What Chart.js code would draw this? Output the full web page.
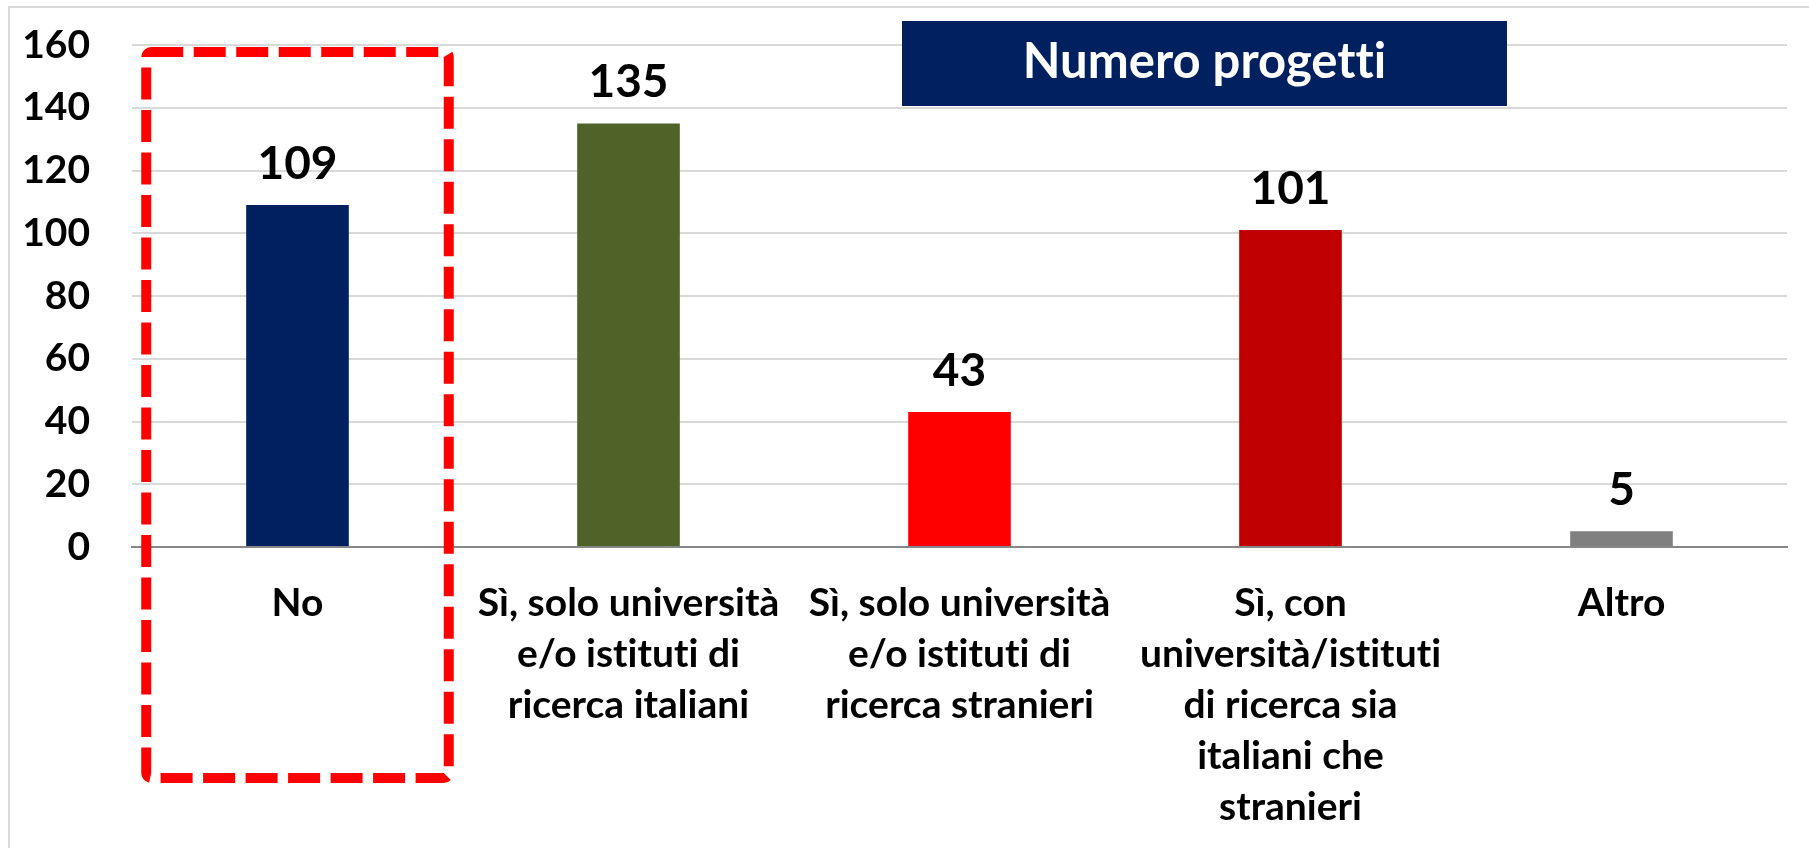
<!DOCTYPE html>
<html>
<head>
<meta charset="utf-8">
<script src="https://cdn.jsdelivr.net/npm/chart.js@4.4.1/dist/chart.umd.min.js"></script>
<style>
html, body { margin: 0; padding: 0; background: #fff; }
#wrap { width: 1809px; height: 848px; position: relative; }
</style>
</head>
<body>
<div id="wrap"><canvas id="progettiChart"></canvas></div>
<script>
// data
const categories = [
    ['No'],
    ['Sì, solo università', 'e/o istituti di', 'ricerca italiani'],
    ['Sì, solo università', 'e/o istituti di', 'ricerca stranieri'],
    ['Sì, con', 'università/istituti', 'di ricerca sia', 'italiani che', 'stranieri'],
    ['Altro']
];
const progetti = [109, 135, 43, 101, 5];
const barColors = ['#002060', '#4F6228', '#FF0000', '#C00000', '#808080'];
const yMax = 160;
const yStep = 20;
const boxTitle = 'Numero progetti';

const FONT = 'Lato';

// Lato has a "ti" ligature, the original font doesn't
const noLigatures = {
    id: 'noLigatures',
    beforeDraw(chart) {
        chart.ctx.textRendering = 'optimizeSpeed';
    }
};

// value labels above bars
const barLabels = {
    id: 'barLabels',
    afterDatasetsDraw(chart) {
        const ctx = chart.ctx;
        const meta = chart.getDatasetMeta(0);
        ctx.save();
        ctx.font = 'bold 46px ' + FONT;
        ctx.fillStyle = '#000';
        ctx.textAlign = 'center';
        ctx.textBaseline = 'alphabetic';
        meta.data.forEach((bar, i) => {
            ctx.fillText(progetti[i], bar.x, bar.y - 26);
        });
        ctx.restore();
    }
};

// outer frame, title box, dashed highlight on "No"
const overlay = {
    id: 'overlay',
    afterDraw(chart) {
        const ctx = chart.ctx;
        const xs = chart.scales.x;
        ctx.save();

        ctx.strokeStyle = '#D9D9D9';
        ctx.lineWidth = 2;
        ctx.strokeRect(9, 7, 1900, 900);

        // title box
        ctx.fillStyle = '#002060';
        ctx.fillRect(902, 21, 605, 85);
        ctx.fillStyle = '#fff';
        ctx.font = 'bold 49px ' + FONT;
        ctx.textAlign = 'center';
        ctx.textBaseline = 'middle';
        ctx.fillText(boxTitle, 1204.5, 62);

        // dashed box around first category
        const cw = xs.width / categories.length;
        const cx = xs.getPixelForValue(0);
        const half = cw * 0.457;
        ctx.strokeStyle = '#FF0000';
        ctx.lineWidth = 10;
        ctx.setLineDash([32, 10.5]);
        ctx.beginPath();
        ctx.roundRect(cx - half, 52, half * 2, 726, 5);
        ctx.stroke();
        ctx.restore();
    }
};

const ctx = document.getElementById('progettiChart').getContext('2d');
new Chart(ctx, {
    type: 'bar',
    data: {
        labels: categories,
        datasets: [{
            label: boxTitle,
            data: progetti,
            backgroundColor: barColors,
            barPercentage: 0.31,
            categoryPercentage: 1
        }]
    },
    options: {
        responsive: true,
        maintainAspectRatio: false,
        animation: false,
        devicePixelRatio: 1,
        layout: { padding: { left: 0, right: 22, top: 45, bottom: 0 } },
        plugins: {
            legend: { display: false },
            tooltip: { enabled: false }
        },
        scales: {
            x: {
                grid: { display: false, drawTicks: false },
                border: { display: true, color: '#878787', width: 2 },
                ticks: {
                    color: '#000',
                    padding: 31,
                    maxRotation: 0,
                    autoSkip: false,
                    font: { family: FONT, size: 39, weight: 'bold', lineHeight: 1.31 }
                },
                afterFit(scale) { scale.height = 301; }
            },
            y: {
                min: 0,
                max: yMax,
                grid: {
                    drawTicks: false,
                    color: c => c.tick && c.tick.value === 0 ? '#878787' : '#D9D9D9',
                    lineWidth: 2
                },
                border: { display: false },
                ticks: {
                    stepSize: yStep,
                    color: '#000',
                    padding: 42,
                    font: { family: FONT, size: 39, weight: 'bold' }
                },
                afterFit(scale) {
                    scale.width = 132;
                    scale.paddingTop = 0;
                    scale.paddingBottom = 0;
                }
            }
        }
    },
    plugins: [noLigatures, barLabels, overlay]
});
</script>
</body>
</html>
